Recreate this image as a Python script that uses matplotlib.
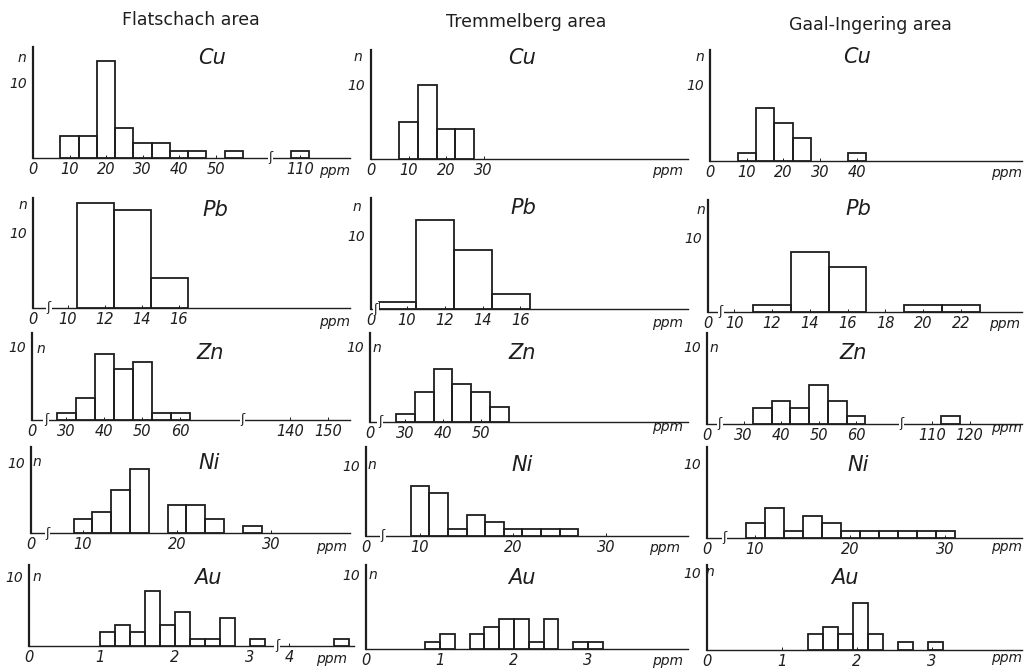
import numpy as np
import matplotlib.pyplot as plt

W, H = 1029, 672
INK = '#1e1e1e'

areas = ['Flatschach area', 'Tremmelberg area', 'Gaal-Ingering area']
elements = ['Cu', 'Pb', 'Zn', 'Ni', 'Au']

# left bin edges (ppm) and number of samples
cu_fl_left = [7.5, 12.5, 17.5, 22.5, 27.5, 32.5, 37.5, 42.5, 52.5, 107.5]
cu_fl_n = [3, 3, 13, 4, 2, 2, 1, 1, 1, 1]
cu_tr_left = [7.5, 12.5, 17.5, 22.5]
cu_tr_n = [5, 10, 4, 4]
cu_ga_left = [7.5, 12.5, 17.5, 22.5, 37.5]
cu_ga_n = [1, 7, 5, 3, 1]

pb_fl_left = [10.5, 12.5, 14.5]
pb_fl_n = [14, 13, 4]
pb_tr_left = [8.5, 10.5, 12.5, 14.5]
pb_tr_n = [1, 12, 8, 2]
pb_ga_left = [11, 13, 15, 19, 21]
pb_ga_n = [1, 8, 6, 1, 1]

zn_fl_left = [27.5, 32.5, 37.5, 42.5, 47.5, 52.5, 57.5]
zn_fl_n = [1, 3, 9, 7, 8, 1, 1]
zn_tr_left = [27.5, 32.5, 37.5, 42.5, 47.5, 52.5]
zn_tr_n = [1, 4, 7, 5, 4, 2]
zn_ga_left = [32.5, 37.5, 42.5, 47.5, 52.5, 57.5, 112.5]
zn_ga_n = [2, 3, 2, 5, 3, 1, 1]

ni_fl_left = [9, 11, 13, 15, 19, 21, 23, 27]
ni_fl_n = [2, 3, 6, 9, 4, 4, 2, 1]
ni_tr_left = [9, 11, 13, 15, 17, 19, 21, 23, 25]
ni_tr_n = [7, 6, 1, 3, 2, 1, 1, 1, 1]
ni_ga_left = [9, 11, 13, 15, 17, 19, 21, 23, 25, 27, 29]
ni_ga_n = [2, 4, 1, 3, 2, 1, 1, 1, 1, 1, 1]

au_fl_left = [1.0, 1.2, 1.4, 1.6, 1.8, 2.0, 2.2, 2.4, 2.6, 3.0, 4.6]
au_fl_n = [2, 3, 2, 8, 3, 5, 1, 1, 4, 1, 1]
au_tr_left = [0.8, 1.0, 1.4, 1.6, 1.8, 2.0, 2.2, 2.4, 2.8, 3.0]
au_tr_n = [1, 2, 2, 3, 4, 4, 1, 4, 1, 1]
au_ga_left = [1.35, 1.55, 1.75, 1.95, 2.15, 2.55, 2.95]
au_ga_n = [2, 3, 2, 6, 2, 1, 1]

bin_width = {'Cu': 5, 'Pb': 2, 'Zn': 5, 'Ni': 2, 'Au': 0.2}

hist = {
    ('Cu', 0): (cu_fl_left, cu_fl_n), ('Cu', 1): (cu_tr_left, cu_tr_n), ('Cu', 2): (cu_ga_left, cu_ga_n),
    ('Pb', 0): (pb_fl_left, pb_fl_n), ('Pb', 1): (pb_tr_left, pb_tr_n), ('Pb', 2): (pb_ga_left, pb_ga_n),
    ('Zn', 0): (zn_fl_left, zn_fl_n), ('Zn', 1): (zn_tr_left, zn_tr_n), ('Zn', 2): (zn_ga_left, zn_ga_n),
    ('Ni', 0): (ni_fl_left, ni_fl_n), ('Ni', 1): (ni_tr_left, ni_tr_n), ('Ni', 2): (ni_ga_left, ni_ga_n),
    ('Au', 0): (au_fl_left, au_fl_n), ('Au', 1): (au_tr_left, au_tr_n), ('Au', 2): (au_ga_left, au_ga_n),
}

ticks = {
    ('Cu', 0): [0, 10, 20, 30, 40, 50, 110], ('Cu', 1): [0, 10, 20, 30], ('Cu', 2): [0, 10, 20, 30, 40],
    ('Pb', 0): [0, 10, 12, 14, 16], ('Pb', 1): [0, 10, 12, 14, 16], ('Pb', 2): [0, 10, 12, 14, 16, 18, 20, 22],
    ('Zn', 0): [0, 30, 40, 50, 60, 140, 150], ('Zn', 1): [0, 30, 40, 50], ('Zn', 2): [0, 30, 40, 50, 60, 110, 120],
    ('Ni', 0): [0, 10, 20, 30], ('Ni', 1): [0, 10, 20, 30], ('Ni', 2): [0, 10, 20, 30],
    ('Au', 0): [0, 1, 2, 3, 4], ('Au', 1): [0, 1, 2, 3], ('Au', 2): [0, 1, 2, 3],
}

# panel geometry in pixels: y axis x, baseline y, axis top, right end,
# px per count, px per ppm, broken-axis segments (v0, v1, px from axis), break marks
geo = {
    ('Cu', 0): dict(ax_x=33, base=158, top=47, right=350, ppc=7.5, k=3.65, segs=[(0, 62, 0), (105, 140, 248.75)], brk=[83.5], ppm=(335, 171), n=(22, 58), name=(212, 58)),
    ('Cu', 1): dict(ax_x=371, base=159, top=50, right=688, ppc=7.4, k=3.75, segs=[(0, 120, 0)], brk=[], ppm=(668, 171), n=(358, 57), name=(522, 58)),
    ('Cu', 2): dict(ax_x=710, base=161, top=50, right=1022, ppc=7.6, k=3.67, segs=[(0, 120, 0)], brk=[], ppm=(1007, 173), n=(700, 57), name=(857, 57)),
    ('Pb', 0): dict(ax_x=33, base=308, top=198, right=350, ppc=7.5, k=18.5, segs=[(0, 0.6, 0), (9.2, 30, 20.2)], brk=[4.9], ppm=(335, 322), n=(23, 205), name=(215, 210)),
    ('Pb', 1): dict(ax_x=371, base=309, top=198, right=688, ppc=7.4, k=18.9, segs=[(0, 0.2, 0), (8.3, 30, 3.87)], brk=[8.35], ppm=(668, 323), n=(357, 207), name=(523, 208)),
    ('Pb', 2): dict(ax_x=708, base=312, top=200, right=1022, ppc=7.5, k=18.9, segs=[(0, 0.3, 0), (9.3, 30, 12.9)], brk=[9.3], ppm=(1005, 324), n=(701, 210), name=(858, 209)),
    ('Zn', 0): dict(ax_x=32, base=420, top=333, right=350, ppc=7.3, k=3.8, segs=[(0, 2.5, 0), (26, 72, 18.8), (132, 170, 227.6)], brk=[14.2, 102], ppm=None, n=(41, 349), name=(210, 353)),
    ('Zn', 1): dict(ax_x=370, base=422, top=333, right=688, ppc=7.6, k=3.76, segs=[(0, 2, 0), (24, 120, 12.9)], brk=[13], ppm=(668, 427), n=(377, 348), name=(522, 353)),
    ('Zn', 2): dict(ax_x=707, base=424, top=333, right=1022, ppc=7.8, k=3.75, segs=[(0, 2, 0), (25, 66, 17.75), (108, 150, 217.5)], brk=[13.5, 87], ppm=(1007, 428), n=(714, 348), name=(853, 353)),
    ('Ni', 0): dict(ax_x=31, base=533, top=447, right=350, ppc=7.1, k=9.4, segs=[(0, 1, 0), (7, 45, 23.8)], brk=[4], ppm=(332, 547), n=(37, 462), name=(209, 463)),
    ('Ni', 1): dict(ax_x=366, base=536, top=447, right=688, ppc=7.1, k=9.3, segs=[(0, 0.3, 0), (5, 45, 7.5)], brk=[6], ppm=(665, 548), n=(372, 465), name=(522, 465)),
    ('Ni', 2): dict(ax_x=707, base=538, top=447, right=1022, ppc=7.5, k=9.5, segs=[(0, 0.3, 0), (6, 45, 10)], brk=[6.8], ppm=(1007, 547), n=None, name=(858, 465)),
    ('Au', 0): dict(ax_x=29, base=646, top=565, right=354, ppc=6.9, k=75, segs=[(0, 0.02, 0), (0.1, 3.3, 3.5), (3.9, 5.5, 252.5)], brk=[3.6], ppm=(332, 659), n=(37, 577), name=(208, 578)),
    ('Au', 1): dict(ax_x=366, base=649, top=565, right=688, ppc=7.4, k=74, segs=[(0, 5, 0)], brk=[], ppm=(668, 661), n=(373, 575), name=(522, 578)),
    ('Au', 2): dict(ax_x=707, base=650, top=565, right=1022, ppc=7.8, k=75, segs=[(0, 5, 0)], brk=[], ppm=(1007, 658), n=(710, 572), name=(845, 578)),
}

title_xy = [(191, 20), (526, 22), (870, 25)]

NARROW = ['Liberation Sans Narrow', 'DejaVu Sans']


def make_scale(segs, k):
    vals, poss = [], []
    for v0, v1, p0 in segs:
        vals += [v0, v1]
        poss += [p0, p0 + (v1 - v0) * k]
    vals = np.array([vals[0] - 1000] + vals + [vals[-1] + 1000], float)
    poss = np.array([poss[0] - 1000 * k] + poss + [poss[-1] + 1000 * k], float)
    return (lambda v: np.interp(v, vals, poss)), (lambda p: np.interp(p, poss, vals))


def ftext(x, y, s, **kw):
    fig.text(x / W, 1 - y / H, s, ha='center', va='center', color=INK, **kw)


fig = plt.figure(figsize=(W / 100, H / 100), dpi=100)

for key, g in geo.items():
    el, col = key
    ax = fig.add_axes([g['ax_x'] / W, 1 - g['base'] / H,
                       (g['right'] - g['ax_x']) / W, (g['base'] - g['top']) / H])
    fwd, inv = make_scale(g['segs'], g['k'])
    ax.set_xscale('function', functions=(fwd, inv))
    ax.set_xlim(0, float(inv(g['right'] - g['ax_x'])))
    ax.set_ylim(0, (g['base'] - g['top']) / g['ppc'])

    left, n = hist[key]
    ax.bar(left, n, width=bin_width[el], align='edge', fill=False,
           edgecolor=INK, linewidth=1.3, zorder=3)

    for s in ['top', 'right']:
        ax.spines[s].set_visible(False)
    ax.spines['left'].set_linewidth(1.6)
    ax.spines['bottom'].set_linewidth(1.0)
    ax.spines['left'].set_color(INK)
    ax.spines['bottom'].set_color(INK)

    ax.set_xticks(ticks[key], labels=[str(t) for t in ticks[key]],
                  fontsize=10.5, fontstyle='italic', family=NARROW, color=INK)
    ax.tick_params(axis='x', direction='in', length=2, width=0.7, pad=3, color=INK)
    ax.set_yticks([10], labels=['10'], fontsize=10, fontstyle='italic', family=NARROW, color=INK)
    ax.tick_params(axis='y', length=0, pad=4)
    ax.minorticks_off()

    for b in g['brk']:
        ax.text(b, 0, 'ʃ', ha='center', va='center', fontsize=9, color=INK,
                family='DejaVu Sans', zorder=5, clip_on=False,
                bbox=dict(fc='white', ec='none', pad=0.5))

    if g['ppm']:
        ftext(*g['ppm'], 'ppm', fontsize=10, fontstyle='italic', family=NARROW)
    if g['n']:
        ftext(*g['n'], 'n', fontsize=10, fontstyle='italic', family=NARROW)
    ftext(*g['name'], el, fontsize=15, fontstyle='italic', family='DejaVu Sans')

for (x, y), t in zip(title_xy, areas):
    ftext(x, y, t, fontsize=12.5, family='DejaVu Sans')

fig.savefig('out.png', dpi=100)
